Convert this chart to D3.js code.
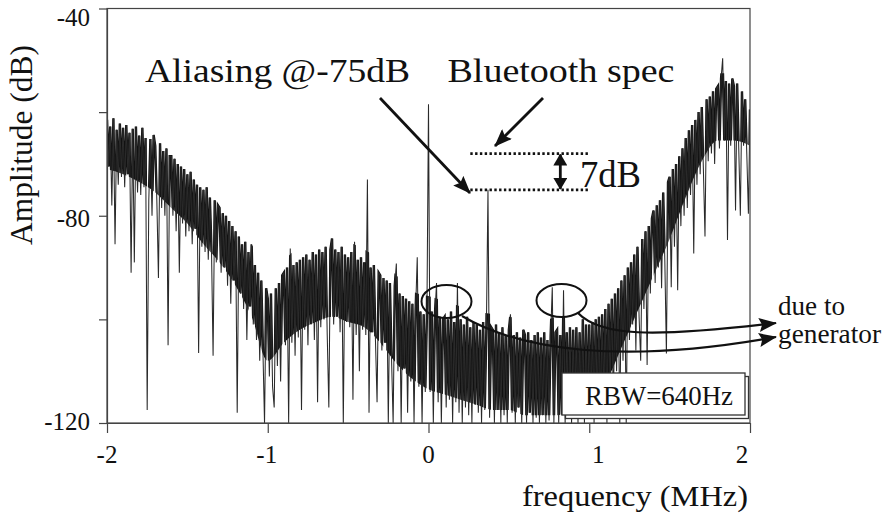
<!DOCTYPE html>
<html>
<head>
<meta charset="utf-8">
<script src="https://cdn.jsdelivr.net/npm/d3@7"></script>
<style>
  html, body { margin: 0; padding: 0; background: #fff; }
  svg { display: block; }
</style>
</head>
<body>
<svg id="chart" width="885" height="514" font-family="'Liberation Serif', 'Times New Roman', Times, serif"></svg>
<script>
// Spectrum trace, sampled every 0.01 MHz starting at -2 MHz (amplitude in dB)
const freqStart = -2;
const freqStep = 0.01;

// -2.00 .. -1.01 MHz
const ampSegA = [
  -61.5, -70.5, -62.8, -78, -61.2, -85.5, -63.4, -74, -62.2, -72.5,
  -63, -74.5, -62.5, -72, -64, -91, -63.2, -89, -62.8, -75.5,
  -64.5, -76, -63, -74.5, -65, -117.5, -77, -65.2, -80, -64.4,
  -66.5, -77, -92, -66, -78.5, -67.5, -80, -67, -105, -68.5,
  -68.5, -80, -69, -83, -70, -91, -70.5, -81.5, -71, -84,
  -72, -83, -71.5, -85.5, -73, -82.5, -74, -106.5, -74.5, -86,
  -75, -87, -74.5, -88.5, -76.5, -86.5, -107, -77, -89, -78,
  -78.5, -91, -79.5, -90, -80, -93.5, -81, -97, -82, -92.5,
  -83, -118, -84, -95, -85.5, -98, -85, -104, -87, -97.5,
  -85.5, -101, -89.5, -104, -91, -108, -92.5, -106, -120, -94
];
// -1.00 .. -0.01 MHz
const ampSegB = [
  -96, -111, -95, -113, -117, -94, -109, -93, -112, -91.5,
  -91, -105, -90, -120, -86.3, -104.5, -89.5, -107, -89, -103.5,
  -88.5, -117.5, -88, -102, -87.5, -105, -88.5, -101, -87, -104,
  -87.5, -116, -86.5, -101.5, -87, -100, -86, -103, -117, -86.5,
  -84.4, -101, -86.5, -99.5, -87, -102.5, -86, -120, -87.5, -100.5,
  -88, -101.5, -87, -115.5, -85, -103, -88.5, -110, -88, -102,
  -89, -103, -73, -118, -90, -102.5, -89.5, -104, -116, -91,
  -91.5, -106, -92, -104.5, -92.5, -120, -93, -107.5, -120, -93.5,
  -89.2, -110, -95, -120, -95.5, -109.5, -96, -118, -96.5, -112,
  -97, -120, -98, -88, -113, -98.5, -120, -99, -114, -99.5
];
// 0.00 .. 0.99 MHz
const ampSegC = [
  -58.5, -114, -98.5, -120, -99, -93, -116, -99.5, -120, -100,
  -99.5, -117, -100, -115.5, -98.5, -120, -100.5, -116, -93, -118,
  -100, -120, -101, -117, -99.5, -118.5, -101.5, -120, -100.5, -116.5,
  -101, -118, -102, -120, -100.5, -117.5, -102, -75, -119, -101.5,
  -102, -120, -101, -117.5, -102.5, -120, -101.5, -118.5, -103, -120,
  -102, -99, -118, -103, -120, -102.5, -117, -103.5, -120, -102,
  -103, -120, -102.5, -118, -104, -120, -103, -119, -102.5, -120,
  -103.5, -118.5, -102.5, -120, -104, -119.5, -103, -93.8, -120, -102.5,
  -102, -120, -103, -118.5, -94.4, -120, -102.5, -119, -101.5, -120,
  -102, -118.5, -101.5, -120, -102.5, -119, -100, -120, -101, -118
];
// 1.00 .. 2.00 MHz
const ampSegD = [
  -101, -118, -100.5, -120, -100, -116, -99.5, -118, -99, -115,
  -98, -120, -97, -113, -96, -117, -95, -110, -94, -120,
  -92.5, -108, -91.5, -120, -90, -104, -89, -101, -87.5, -106,
  -86, -99.5, -108, -84.5, -98, -83, -108.8, -82, -95, -80.5,
  -79, -93, -78, -90, -77, -94, -75.5, -88.5, -106.6, -73.5,
  -72.5, -93.8, -71, -86, -70, -94.4, -68.5, -82, -67, -80,
  -65, -78.5, -63.5, -76, -62.5, -87.3, -61.5, -74, -60, -72,
  -59, -71, -84, -57.5, -69.5, -57, -68, -56, -70, -55.5,
  -55, -67, -53.5, -49.6, -65.5, -54, -84.7, -54.5, -66.5, -53.5,
  -55, -79, -54.5, -67, -80, -56, -66.5, -57.5, -68, -79.6, -59.5
];

// Upper and lower edges of the dense part of the noise floor, every 0.1 MHz (dB)
const denseStep = 0.1;
const denseCeiling = [
  -59, -60.5, -61.5, -63.5, -65.5, -69, -72.5, -76, -80.5, -85.5,
  -90.5, -88.5, -86, -85, -84, -85, -86.5, -88.5, -91.5, -94.5,
  -95.5, -96.5, -97.5, -98.5, -99, -99.5, -100, -100.5, -99.5, -99.5,
  -98.5, -95.5, -90.5, -83.5, -76.5, -70, -62.5, -56.5, -52.5, -52.5, -56.5
];
const denseFloor = [
  -71, -72, -73.5, -75.5, -78.5, -81.5, -85.5, -89, -93.5, -99.5,
  -108, -104.5, -102, -100.5, -99.5, -100.5, -101.5, -104.5, -108.5, -111.5,
  -113.5, -114.5, -115.5, -116.5, -117.5, -117.5, -118.5, -118.5, -118.5, -117.5,
  -116.5, -112.5, -105.5, -98.5, -91.5, -84.5, -76.5, -69.5, -65.5, -65.5, -66.5
];

// Axes
const xTickValues = [-2, -1, 0, 1, 2];
const yTickValues = [-40, -60, -80, -100, -120];
const yTickLabels = [-40, -80, -120];

// Annotated levels (dB) and the span of the reference lines (MHz)
const aliasLevel = -75;
const specLevel = -68;
const specSpan = [0.26, 1.0];
const gapMarkerFreq = 0.82;

const svg = d3.select("#chart");
const x = d3.scaleLinear().domain([-2, 2]).range([107, 750]);
const y = d3.scaleLinear().domain([-120, -40]).range([423, 8.5]);

const frameColor = "#444";
const ink = "#111";

// arrowhead markers
const defs = svg.append("defs");
defs.append("marker")
  .attr("id", "head")
  .attr("markerUnits", "userSpaceOnUse")
  .attr("viewBox", "0 0 18 14")
  .attr("refX", 17).attr("refY", 7)
  .attr("markerWidth", 18).attr("markerHeight", 14)
  .attr("orient", "auto")
  .append("path").attr("d", "M0,0 L18,7 L0,14 L3,7 Z").attr("fill", ink);
defs.append("marker")
  .attr("id", "headSmall")
  .attr("markerUnits", "userSpaceOnUse")
  .attr("viewBox", "0 0 12 14")
  .attr("refX", 11).attr("refY", 7)
  .attr("markerWidth", 12).attr("markerHeight", 14)
  .attr("orient", "auto-start-reverse")
  .append("path").attr("d", "M0,0 L12,7 L0,14 Z").attr("fill", ink);
defs.append("clipPath").attr("id", "plotClip")
  .append("rect")
  .attr("x", x(-2)).attr("y", y(-40))
  .attr("width", x(2) - x(-2)).attr("height", y(-120) - y(-40));

// dense band of the noise floor: the trace is drawn heavier inside it
const dense = denseFloor.map((b, i) => ({ f: freqStart + i * denseStep, b, t: denseCeiling[i] }));
defs.append("clipPath").attr("id", "denseClip")
  .append("path")
  .attr("d", d3.area().curve(d3.curveMonotoneX)
    .x(d => x(d.f)).y0(d => y(d.b)).y1(d => y(d.t))(dense));

const amps = [].concat(ampSegA, ampSegB, ampSegC, ampSegD);
const trace = amps.map((a, i) => ({ f: freqStart + i * freqStep, a }));
const line = d3.line().x(d => x(d.f)).y(d => y(Math.max(d.a, -121)));

const plot = svg.append("g").attr("clip-path", "url(#plotClip)");
plot.append("g").attr("clip-path", "url(#denseClip)")
  .append("path")
  .datum(trace)
  .attr("d", line)
  .attr("fill", "none")
  .attr("stroke", "#111")
  .attr("stroke-width", 2.4)
  .attr("stroke-linejoin", "miter");
plot.append("path")
  .datum(trace)
  .attr("d", line)
  .attr("fill", "none")
  .attr("stroke", "#2a2a2a")
  .attr("stroke-width", 1.05)
  .attr("stroke-linejoin", "miter");

// frame and axes
svg.append("rect")
  .attr("x", x(-2)).attr("y", y(-40))
  .attr("width", x(2) - x(-2)).attr("height", y(-120) - y(-40))
  .attr("fill", "none").attr("stroke", frameColor).attr("stroke-width", 1.2);

const yAxis = svg.append("g")
  .attr("transform", `translate(${x(-2)},0)`)
  .call(d3.axisLeft(y).tickValues(yTickValues).tickSize(8).tickSizeOuter(0).tickFormat(""));
const xAxis = svg.append("g")
  .attr("transform", `translate(0,${y(-120)})`)
  .call(d3.axisBottom(x).tickValues(xTickValues).tickSize(10).tickSizeOuter(0).tickFormat(""));
[yAxis, xAxis].forEach(g => {
  g.select(".domain").attr("stroke", frameColor).attr("stroke-width", 1.2);
  g.selectAll(".tick line").attr("stroke", frameColor).attr("stroke-width", 1.2);
});

// tick labels
const yLabelDy = { "-40": 17.5, "-80": 11, "-120": 7 };
svg.append("g").selectAll("text")
  .data(yTickLabels).join("text")
  .attr("x", 90)
  .attr("y", d => y(d) + yLabelDy[d])
  .attr("text-anchor", "end")
  .attr("font-size", 25)
  .attr("fill", ink)
  .text(d => d);

const xLabelDx = { "-2": 0, "-1": -1, "0": 0, "1": 9, "2": -8 };
svg.append("g").selectAll("text")
  .data(xTickValues).join("text")
  .attr("x", d => x(d) + xLabelDx[d])
  .attr("y", 463)
  .attr("text-anchor", "middle")
  .attr("font-size", 25)
  .attr("fill", ink)
  .text(d => d);

// axis titles
svg.append("text")
  .attr("transform", "translate(31.5,145) rotate(-90)")
  .attr("text-anchor", "middle")
  .attr("font-size", 31)
  .attr("textLength", 200).attr("lengthAdjust", "spacingAndGlyphs")
  .attr("fill", ink)
  .text("Amplitude (dB)");
svg.append("text")
  .attr("x", 522).attr("y", 506)
  .attr("font-size", 30)
  .attr("textLength", 226).attr("lengthAdjust", "spacingAndGlyphs")
  .attr("fill", ink)
  .text("frequency (MHz)");

// spec / aliasing reference lines
const ann = svg.append("g");
[specLevel, aliasLevel].forEach(v => {
  ann.append("line")
    .attr("x1", x(specSpan[0])).attr("x2", x(specSpan[1]))
    .attr("y1", y(v)).attr("y2", y(v))
    .attr("stroke", ink).attr("stroke-width", 2.6)
    .attr("stroke-dasharray", "2.4,2.4");
});
ann.append("line")
  .attr("x1", x(gapMarkerFreq)).attr("x2", x(gapMarkerFreq))
  .attr("y1", y(specLevel) + 1).attr("y2", y(aliasLevel) - 1)
  .attr("stroke", ink).attr("stroke-width", 2.8)
  .attr("marker-start", "url(#headSmall)")
  .attr("marker-end", "url(#headSmall)");

ann.append("text")
  .attr("x", 145).attr("y", 81.5)
  .attr("font-size", 33)
  .attr("textLength", 265).attr("lengthAdjust", "spacingAndGlyphs")
  .attr("fill", ink)
  .text("Aliasing @-75dB");
ann.append("text")
  .attr("x", 447.5).attr("y", 81.5)
  .attr("font-size", 33)
  .attr("textLength", 227).attr("lengthAdjust", "spacingAndGlyphs")
  .attr("fill", ink)
  .text("Bluetooth spec");
ann.append("text")
  .attr("x", 580).attr("y", 186.5)
  .attr("font-size", 37)
  .attr("textLength", 61).attr("lengthAdjust", "spacingAndGlyphs")
  .attr("fill", ink)
  .text("7dB");

// straight pointer arrows
ann.append("line")
  .attr("x1", 380).attr("y1", 98).attr("x2", 470).attr("y2", 193)
  .attr("stroke", ink).attr("stroke-width", 2.8)
  .attr("marker-end", "url(#head)");
ann.append("line")
  .attr("x1", 543).attr("y1", 98).attr("x2", 495).attr("y2", 146)
  .attr("stroke", ink).attr("stroke-width", 2.8)
  .attr("marker-end", "url(#head)");

// generator spurs: ellipses and curved arrows
ann.append("ellipse")
  .attr("cx", 446.5).attr("cy", 301.5).attr("rx", 25).attr("ry", 16.5)
  .attr("fill", "none").attr("stroke", ink).attr("stroke-width", 2);
ann.append("ellipse")
  .attr("cx", 561.5).attr("cy", 300.5).attr("rx", 25).attr("ry", 16.5)
  .attr("fill", "none").attr("stroke", ink).attr("stroke-width", 2);
ann.append("path")
  .attr("d", "M462,316 C520,350 620,365 776,337")
  .attr("fill", "none").attr("stroke", ink).attr("stroke-width", 2.2)
  .attr("marker-end", "url(#head)");
ann.append("path")
  .attr("d", "M578,313 C600,336 650,338 776,323")
  .attr("fill", "none").attr("stroke", ink).attr("stroke-width", 2.2)
  .attr("marker-end", "url(#head)");
ann.append("text")
  .attr("x", 778).attr("y", 315)
  .attr("font-size", 27)
  .attr("textLength", 67).attr("lengthAdjust", "spacingAndGlyphs")
  .attr("fill", ink)
  .text("due to");
ann.append("text")
  .attr("x", 778).attr("y", 343)
  .attr("font-size", 27)
  .attr("textLength", 103).attr("lengthAdjust", "spacingAndGlyphs")
  .attr("fill", ink)
  .text("generator");

// resolution bandwidth box with offset shadow
const box = { x: 562, y: 373, w: 183, h: 42 };
ann.append("rect")
  .attr("x", box.x + 3.5).attr("y", box.y + 3.5).attr("width", box.w).attr("height", box.h)
  .attr("fill", "#fff").attr("stroke", "#333").attr("stroke-width", 1.3);
ann.append("rect")
  .attr("x", box.x).attr("y", box.y).attr("width", box.w).attr("height", box.h)
  .attr("fill", "#fff").attr("stroke", "#333").attr("stroke-width", 1.3);
ann.append("text")
  .attr("x", 585).attr("y", 405)
  .attr("font-size", 27)
  .attr("textLength", 148).attr("lengthAdjust", "spacingAndGlyphs")
  .attr("fill", ink)
  .text("RBW=640Hz");
</script>
</body>
</html>
